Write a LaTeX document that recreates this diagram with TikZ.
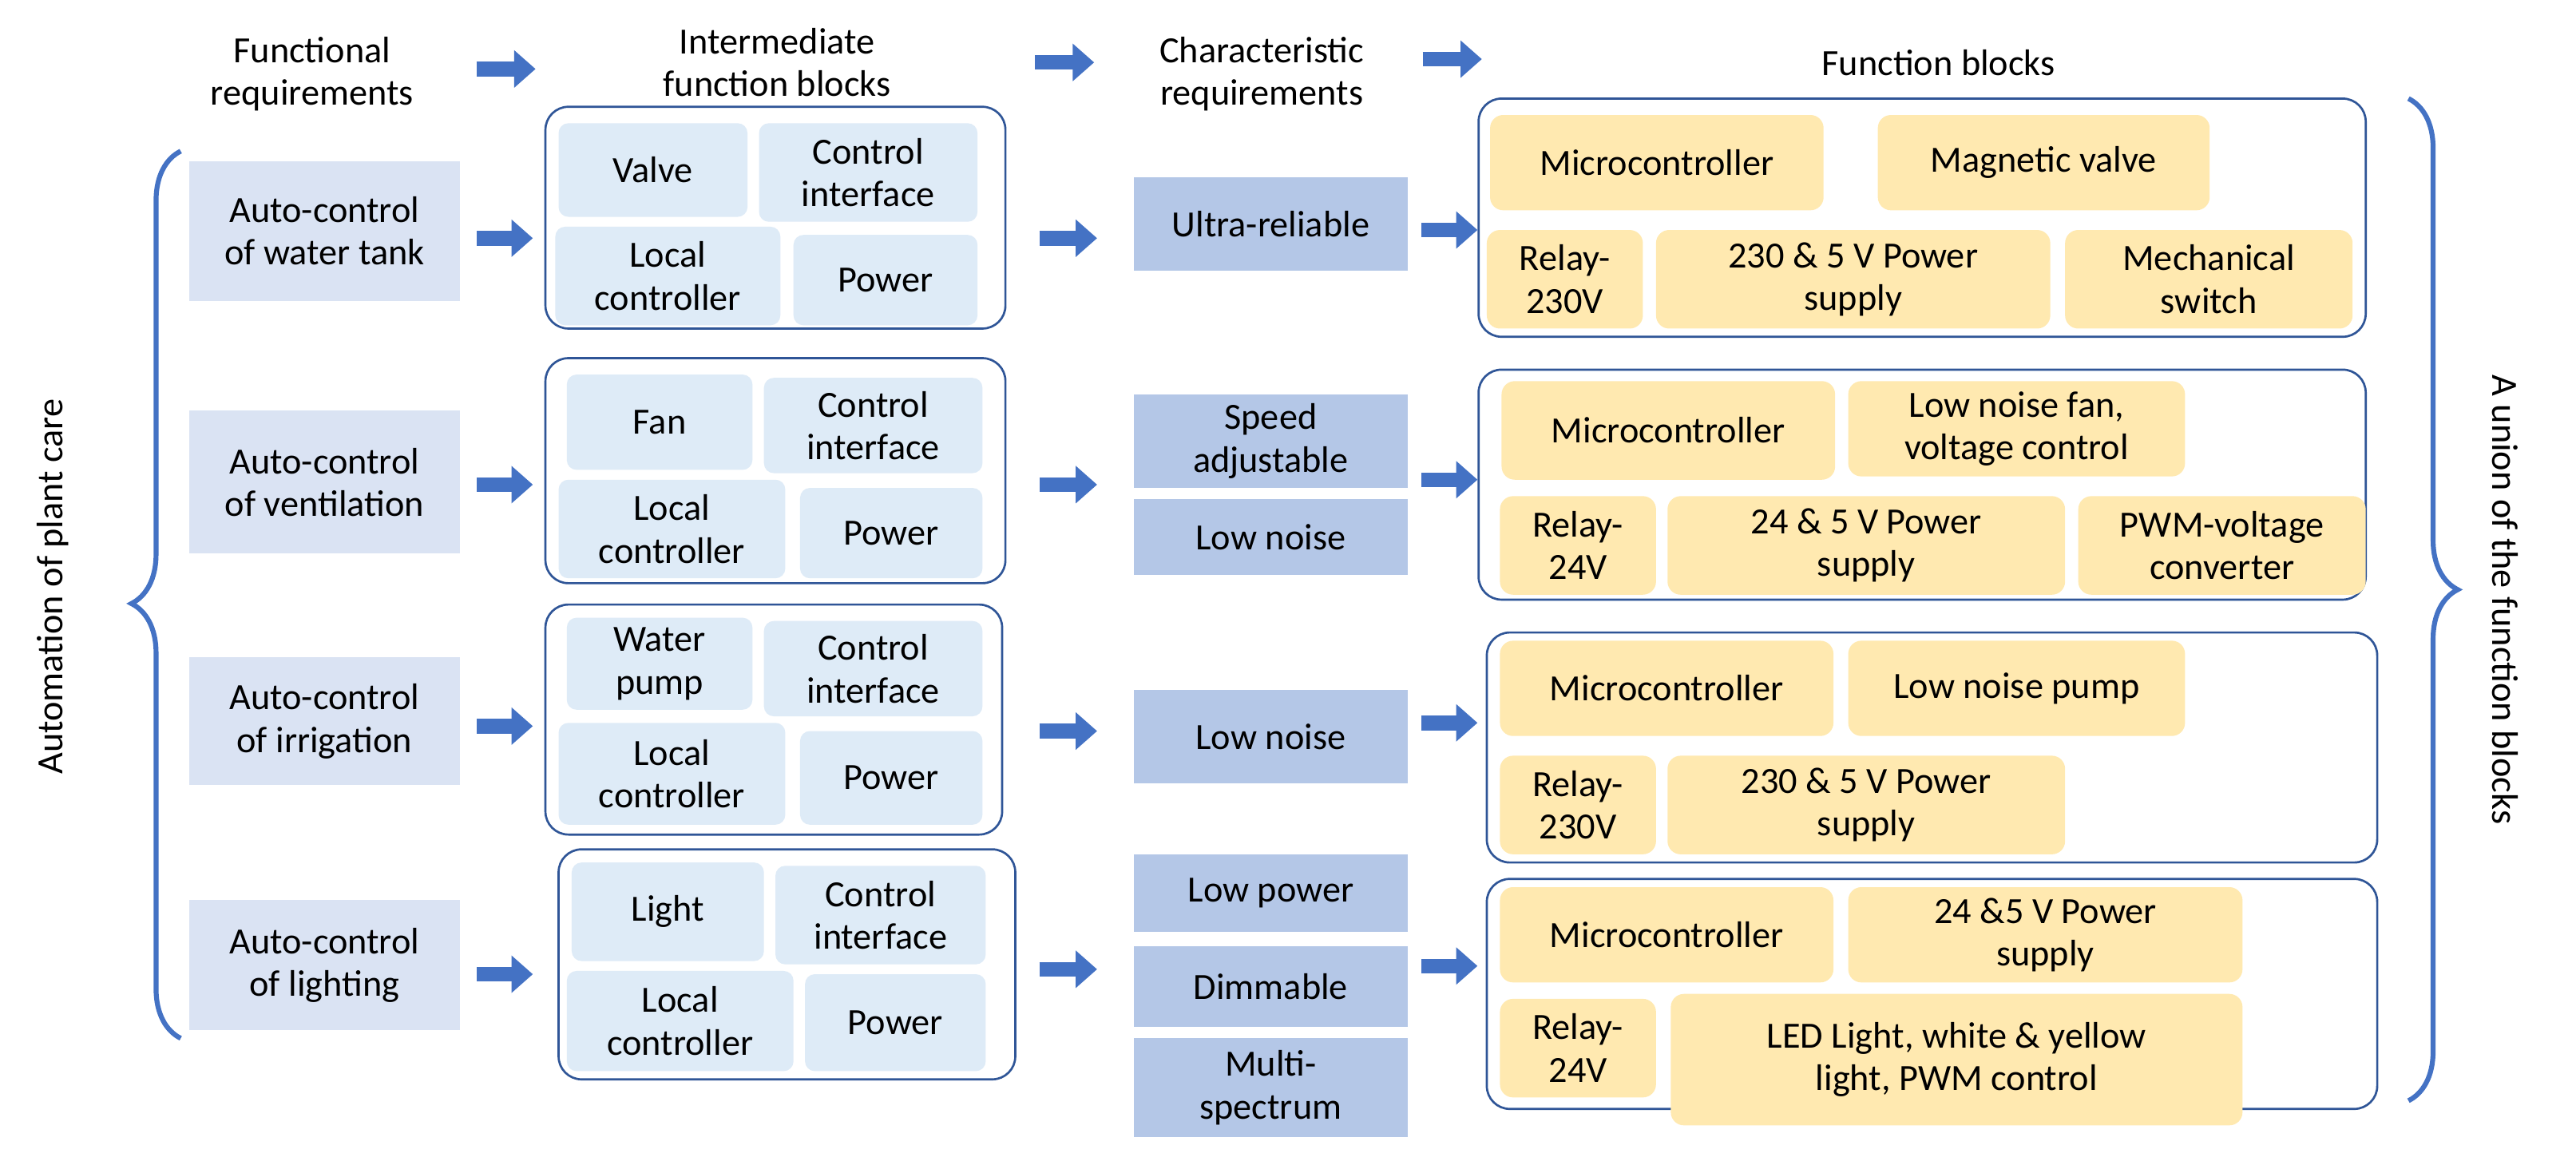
\documentclass[tikz,border=0pt]{standalone}
\usepackage{fontspec}
\setmainfont{Carlito}
\usetikzlibrary{arrows.meta,decorations.pathreplacing}
\definecolor{fr}{HTML}{DAE3F3}
\definecolor{ib}{HTML}{DEEBF7}
\definecolor{cr}{HTML}{B4C7E7}
\definecolor{yb}{HTML}{FFE9B0}
\definecolor{bd}{HTML}{2F5597}
\definecolor{ar}{HTML}{4472C4}
\newcommand\bx[7]{\node[#2,minimum width={#5pt-#3pt},minimum height={#6pt-#4pt}] (#1) at ({(#3+#5)/2},{(#4+#6)/2}) {#7};}
\begin{document}
\begin{tikzpicture}[x=1pt,y=-1pt,
  every node/.style={font=\fontsize{22.5}{26}\selectfont,align=center,inner sep=0pt},
  frb/.style={fill=fr},
  ibx/.style={fill=ib,rounded corners=6pt},
  crb/.style={fill=cr},
  ybx/.style={fill=yb,rounded corners=8pt},
  grp/.style={draw=bd,line width=1.3pt,rounded corners=14pt},
  arr/.style={ar,line width=9pt,-{Triangle[width=22pt,length=13pt]}},
  brc/.style={ar,line width=3pt,decorate,decoration={brace,amplitude=30pt,aspect=0.49}}]
\useasboundingbox (0,0) rectangle (1568,714);
\fill[white] (0,0) rectangle (1568,714);
% headers
\node (h1) at (190,45) {Functional\\requirements};
\node (h2) at (473,38) {Intermediate\\function blocks};
\node (h3) at (768,45) {Characteristic\\requirements};
\node (h4) at (1180,38) {Function blocks};
\coordinate (ha1) at (290,42); \coordinate (hb1) at (326,42);
\coordinate (ha2) at (630,38); \coordinate (hb2) at (666,38);
\coordinate (ha3) at (866,36); \coordinate (hb3) at (902,36);
\draw[arr] (ha1) -- (hb1);
\draw[arr] (ha2) -- (hb2);
\draw[arr] (ha3) -- (hb3);
% left brace
\draw[brc] (110,632) -- (110,92);
\node[rotate=90] (ap) at (32,357) {Automation of plant care};
% functional requirements
\bx{f1}{frb}{115}{98}{280}{183}{Auto-control\\of water tank}
\bx{f2}{frb}{115}{250}{280}{337}{Auto-control\\of ventilation}
\bx{f3}{frb}{115}{400}{280}{478}{Auto-control\\of irrigation}
\bx{f4}{frb}{115}{548}{280}{627}{Auto-control\\of lighting}
% intermediate groups
\bx{g1}{grp}{332}{65}{612}{200}{}
\bx{g2}{grp}{332}{218}{612}{355}{}
\bx{g3}{grp}{332}{368}{610}{508}{}
\bx{g4}{grp}{340}{517}{618}{657}{}
\bx{a1}{ibx}{340}{75}{455}{132}{Valve}
\bx{a2}{ibx}{462}{75}{595}{135}{Control\\interface}
\bx{a3}{ibx}{338}{138}{475}{198}{Local\\controller}
\bx{a4}{ibx}{483}{143}{595}{198}{Power}
\bx{b1}{ibx}{345}{228}{458}{286}{Fan}
\bx{b2}{ibx}{465}{230}{598}{288}{Control\\interface}
\bx{b3}{ibx}{340}{292}{478}{352}{Local\\controller}
\bx{b4}{ibx}{487}{297}{598}{352}{Power}
\bx{c1}{ibx}{345}{376}{458}{432}{Water\\pump}
\bx{c2}{ibx}{465}{378}{598}{436}{Control\\interface}
\bx{c3}{ibx}{340}{440}{478}{502}{Local\\controller}
\bx{c4}{ibx}{487}{445}{598}{502}{Power}
\bx{d1}{ibx}{348}{525}{465}{585}{Light}
\bx{d2}{ibx}{472}{527}{600}{587}{Control\\interface}
\bx{d3}{ibx}{345}{591}{483}{652}{Local\\controller}
\bx{d4}{ibx}{490}{593}{600}{652}{Power}
% characteristic
\bx{k1}{crb}{690}{108}{857}{165}{Ultra-reliable}
\bx{k2}{crb}{690}{240}{857}{297}{Speed\\adjustable}
\bx{k3}{crb}{690}{304}{857}{350}{Low noise}
\bx{k4}{crb}{690}{420}{857}{477}{Low noise}
\bx{k5}{crb}{690}{520}{857}{567}{Low power}
\bx{k6}{crb}{690}{576}{857}{625}{Dimmable}
\bx{k7}{crb}{690}{632}{857}{692}{Multi-\\spectrum}
% function groups
\bx{F1}{grp}{900}{60}{1440}{205}{}
\bx{F2}{grp}{900}{225}{1440}{365}{}
\bx{F3}{grp}{905}{385}{1447}{525}{}
\bx{F4}{grp}{905}{535}{1447}{675}{}
\bx{p1}{ybx}{907}{70}{1110}{128}{Microcontroller}
\bx{p2}{ybx}{1143}{70}{1345}{128}{Magnetic valve}
\bx{p3}{ybx}{905}{140}{1000}{200}{Relay-\\230V}
\bx{p4}{ybx}{1008}{140}{1248}{200}{230 \& 5 V Power\\supply}
\bx{p5}{ybx}{1257}{140}{1432}{200}{Mechanical\\switch}
\bx{q1}{ybx}{914}{232}{1117}{292}{Microcontroller}
\bx{q2}{ybx}{1125}{232}{1330}{290}{Low noise fan,\\voltage control}
\bx{q3}{ybx}{913}{302}{1008}{362}{Relay-\\24V}
\bx{q4}{ybx}{1015}{302}{1257}{362}{24 \& 5 V Power\\supply}
\bx{q5}{ybx}{1265}{302}{1440}{362}{PWM-voltage\\converter}
\bx{r1}{ybx}{913}{390}{1116}{448}{Microcontroller}
\bx{r2}{ybx}{1125}{390}{1330}{448}{Low noise pump}
\bx{r3}{ybx}{913}{460}{1008}{520}{Relay-\\230V}
\bx{r4}{ybx}{1015}{460}{1257}{520}{230 \& 5 V Power\\supply}
\bx{s1}{ybx}{913}{540}{1116}{598}{Microcontroller}
\bx{s2}{ybx}{1125}{540}{1365}{598}{24 \&5 V Power\\supply}
\bx{s3}{ybx}{913}{608}{1008}{668}{Relay-\\24V}
\bx{s4}{ybx}{1017}{605}{1365}{685}{LED Light, white \& yellow\\light, PWM control}
% arrows
\draw[arr,shorten <=10pt,shorten >=7pt] (f1.east|-0,145) -- (g1.west|-0,145);
\draw[arr,shorten <=10pt,shorten >=7pt] (f2.east|-0,295) -- (g2.west|-0,295);
\draw[arr,shorten <=10pt,shorten >=7pt] (f3.east|-0,442) -- (g3.west|-0,442);
\draw[arr,shorten <=10pt,shorten >=15pt] (f4.east|-0,593) -- (g4.west|-0,593);
\draw[arr,shorten <=20pt,shorten >=22pt] (g1.east|-0,145) -- (k1.west|-0,145);
\draw[arr,shorten <=20pt,shorten >=22pt] (g2.east|-0,295) -- (k2.west|-0,295);
\draw[arr,shorten <=22pt,shorten >=22pt] (g3.east|-0,445) -- (k4.west|-0,445);
\draw[arr,shorten <=14pt,shorten >=22pt] (g4.east|-0,590) -- (k6.west|-0,590);
\draw[arr,shorten <=8pt,shorten >=0pt] (k1.east|-0,140) -- (F1.west|-0,140);
\draw[arr,shorten <=8pt,shorten >=0pt] (k2.east|-0,292) -- (F2.west|-0,292);
\draw[arr,shorten <=8pt,shorten >=5pt] (k4.east|-0,440) -- (F3.west|-0,440);
\draw[arr,shorten <=8pt,shorten >=5pt] (k6.east|-0,588) -- (F4.west|-0,588);
% right brace
\draw[brc] (1466,60) -- (1466,670);
\node[rotate=-90] (un) at (1525,365) {A union of the function blocks};
\end{tikzpicture}
\end{document}
